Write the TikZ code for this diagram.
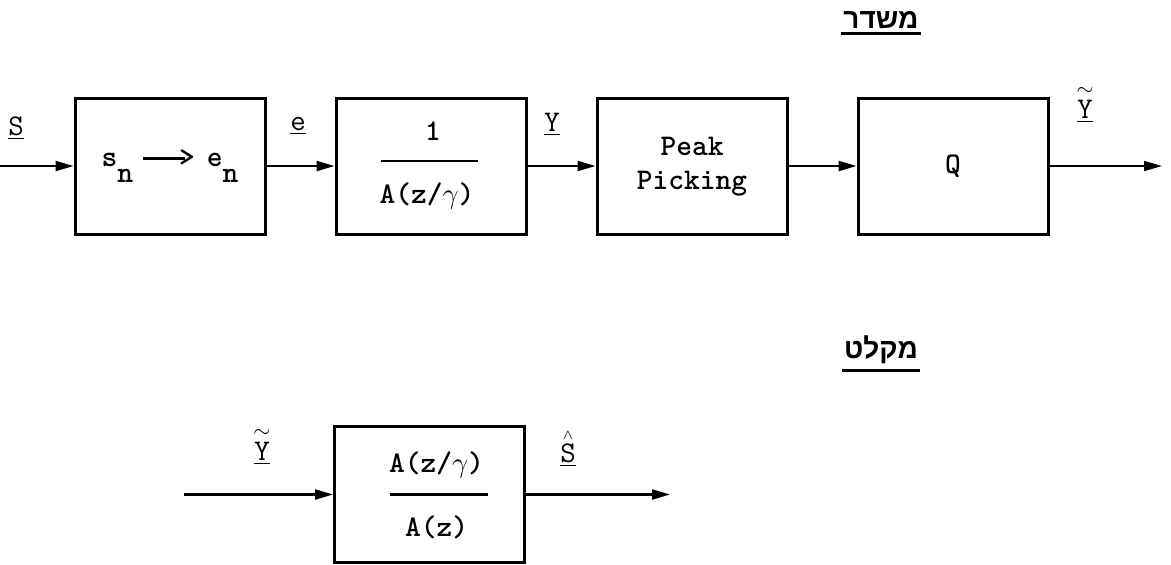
\documentclass[tikz,border=0pt]{standalone}
\usepackage{fontspec}
\newfontfamily\hebfont[Script=Hebrew]{Liberation Sans}
\TeXXeTstate=1
\usetikzlibrary{positioning,calc,arrows.meta}

\tikzset{
  blk/.style={draw, line width=1.5pt, minimum width=95pt, minimum height=68pt, inner sep=0pt},
  sig/.style={line width=1.1pt, -{Triangle[length=9pt,width=5pt]}},
  fracline/.style={line width=1.4pt},
  lbl/.style={inner sep=0pt},
  heblbl/.style={font=\fontsize{14}{16}\selectfont\bfseries\hebfont, inner sep=1pt},
  ul/.style={line width=1.5pt},
}
\newcommand\tyarrow{\rule[0.22em]{1.4em}{0.09em}\kern-0.2em>}
\newcommand\tildeY{$\stackrel{\sim}{\underline{\mathtt{Y}}}$}
\newcommand\hatS{$\stackrel{\scriptscriptstyle\wedge}{\underline{\mathtt{S}}}$}

\begin{document}
\begin{tikzpicture}[x=0.5pt,y=-0.5pt,font=\fontsize{15}{17}\selectfont\ttfamily\bfseries,node distance=34pt]

  \useasboundingbox (0,0) rectangle (1171,564);

  % --- transmitter: four blocks in a row ---
  \node[blk] (conv) at (170,166) {s\raisebox{-8pt}{n}\kern5pt\tyarrow\kern6pt e\raisebox{-8pt}{n}};
  \node[blk, right=of conv] (wght) {};
  \node[blk, right=of wght] (peak) {\begin{tabular}{@{}c@{}}Peak\\Picking\end{tabular}};
  \node[blk, right=of peak] (quant) {Q};

  % fraction inside the weighting block
  \node[lbl] (wnum) at ($(wght)+(2,-35)$) {1};
  \draw[fracline] ($(wght)+(-50,-5)$) -- ($(wght)+(47,-5)$);
  \node[lbl] (wden) at ($(wght)+(-4,30)$) {A(z/$\gamma$)};

  % --- signal flow ---
  \coordinate (sin) at (0,166);
  \coordinate (yout) at (1162,166);
  \draw[sig] (sin) -- (conv);
  \draw[sig] (conv) -- (wght);
  \draw[sig] (wght) -- (peak);
  \draw[sig] (peak) -- (quant);
  \draw[sig] (quant) -- (yout);

  % signal names
  \node[lbl] (lS) at (16,128) {$\underline{\mathtt{S}}$};
  \node[lbl] (le) at (298,126) {$\underline{\mathtt{e}}$};
  \node[lbl] (lY) at (552,124) {$\underline{\mathtt{Y}}$};
  \node[lbl] (lYt) at (1085,104) {\tildeY};

  % --- section titles ---
  \node[heblbl, anchor=base] (tx) at (881,28) {\beginR משדר\endR};
  \draw[ul] ($(tx.base west)+(0,5)$) -- ($(tx.base east)+(0,5)$);
  \node[heblbl, anchor=base] (rx) at (881,358) {\beginR מקלט\endR};
  \draw[ul] ($(rx.base west)+(0,12)$) -- ($(rx.base east)+(0,12)$);

  % --- receiver ---
  \node[blk] (synth) at (429.5,494.5) {};
  \node[lbl] (snum) at ($(synth)+(7,-30)$) {A(z/$\gamma$)};
  \draw[fracline] ($(synth)+(-40,0)$) -- ($(synth)+(58,0)$);
  \node[lbl] (sden) at ($(synth)+(7,33)$) {A(z)};

  \coordinate (rin) at ($(synth.west)+(-149,0)$);
  \coordinate (sout) at ($(synth.east)+(144,0)$);
  \draw[sig] (rin) -- (synth);
  \draw[sig] (synth) -- (sout);

  \node[lbl] (lYr) at (262,446) {\tildeY};
  \node[lbl] (lSh) at (568,448) {\hatS};

\end{tikzpicture}
\end{document}
